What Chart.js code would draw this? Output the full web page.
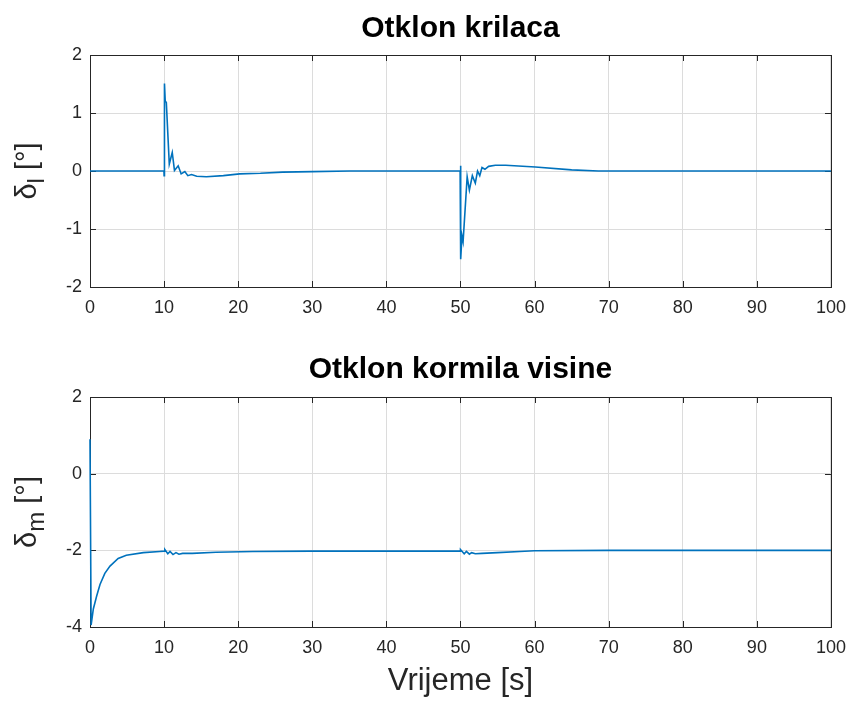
<!DOCTYPE html>
<html>
<head>
<meta charset="utf-8">
<script src="https://cdn.jsdelivr.net/npm/chart.js@4.4.0/dist/chart.umd.min.js"></script>
<style>
  body { margin: 0; background: #fff; }
  .panel { position: absolute; left: 0; width: 856px; }
  #gornji { top: 0; height: 330px; }
  #donji { top: 330px; height: 372px; }
</style>
</head>
<body>
<div class="panel" id="gornji"><canvas id="krilcaChart"></canvas></div>
<div class="panel" id="donji"><canvas id="kormiloChart"></canvas></div>
<script>
// Otklon krilaca: vrijeme [s] i kut [°]
const vrijemeKrilca = [0, 9.98, 10.0, 10.05, 10.15, 10.3, 10.7, 11.1, 11.4, 11.9, 12.3, 12.8, 13.2, 13.7, 14.4, 15.7, 18, 20.2, 23, 26, 30, 35, 49.95,
    50.0, 50.05, 50.2, 50.35, 50.9, 51.2, 51.6, 52.0, 52.3, 52.6, 52.9, 53.3, 53.8, 54.7, 56.1, 60.1, 65, 68.6, 75, 100];
const otklonKrilca = [0, 0, -0.08, 1.51, 1.21, 1.18, 0.12, 0.32, 0.01, 0.09, -0.05, -0.01, -0.08, -0.06, -0.09, -0.1, -0.08, -0.05, -0.04, -0.02, -0.01, 0, 0,
    0.09, -1.52, -1.12, -1.22, -0.1, -0.33, -0.08, -0.21, 0, -0.08, 0.06, 0.03, 0.08, 0.1, 0.1, 0.07, 0.02, 0, 0, 0];

// Otklon kormila visine: vrijeme [s] i kut [°]
const vrijemeKormila = [0, 0.15, 0.45, 0.9, 1.35, 2.0, 2.7, 3.8, 4.9, 7.2, 9.4, 10.0, 10.1, 10.5, 10.8, 11.2, 11.6, 12.0, 12.5, 13.8, 17, 22, 30, 40,
    49.95, 50.0, 50.5, 50.8, 51.2, 51.5, 52.0, 52.9, 55, 58, 60, 70, 100];
const otklonKormila = [0.9, -3.95, -3.53, -3.19, -2.89, -2.6, -2.41, -2.21, -2.13, -2.06, -2.03, -2.02, -1.98, -2.09, -2.03, -2.11, -2.06, -2.1, -2.08, -2.08, -2.05, -2.03, -2.02, -2.02,
    -2.02, -1.98, -2.09, -2.03, -2.1, -2.06, -2.09, -2.08, -2.06, -2.03, -2.01, -2.0, -2.0];

const xTicks = [0, 10, 20, 30, 40, 50, 60, 70, 80, 90, 100];
const yTicksKrilca = [-2, -1, 0, 1, 2];
const yTicksKormila = [-4, -2, 0, 2];

const FONT = '"Liberation Sans", Arial, sans-serif';
const TAMNA = '#262626';
const PLAVA = '#0072BD';

// okvir osi i unutarnje crtice, ispod krivulje
function nacrtajOkvir(chart) {
    const ctx = chart.ctx;
    const a = chart.chartArea;
    const sx = chart.scales.x, sy = chart.scales.y;
    ctx.save();
    ctx.strokeStyle = TAMNA;
    ctx.lineWidth = 1;
    ctx.beginPath();
    sx.ticks.forEach(function(t) {
        const px = Math.round(sx.getPixelForValue(t.value)) + 0.5;
        ctx.moveTo(px, a.top); ctx.lineTo(px, a.top + 6);
        ctx.moveTo(px, a.bottom); ctx.lineTo(px, a.bottom - 6);
    });
    sy.ticks.forEach(function(t) {
        const py = Math.round(sy.getPixelForValue(t.value)) + 0.5;
        ctx.moveTo(a.left, py); ctx.lineTo(a.left + 6, py);
        ctx.moveTo(a.right, py); ctx.lineTo(a.right - 6, py);
    });
    ctx.stroke();
    ctx.strokeRect(Math.round(a.left) + 0.5, Math.round(a.top) + 0.5,
        Math.round(a.right - a.left), Math.round(a.bottom - a.top));
    ctx.restore();
}

// oznake osi (delta s indeksom, vrijeme)
function nacrtajOznake(chart, opts) {
    const ctx = chart.ctx;
    const a = chart.chartArea;
    ctx.save();
    ctx.fillStyle = TAMNA;
    ctx.textAlign = 'left';
    ctx.textBaseline = 'alphabetic';
    ctx.translate(opts.labelX, (a.top + a.bottom) / 2);
    ctx.rotate(-Math.PI / 2);
    const glavni = '29px ' + FONT, mali = '24px ' + FONT;
    ctx.font = glavni;
    const w1 = ctx.measureText('δ').width;
    const w3 = ctx.measureText(' [°]').width;
    ctx.font = mali;
    const w2 = ctx.measureText(opts.indeks).width;
    let px = -(w1 + w2 + w3) / 2;
    ctx.font = glavni;
    ctx.fillText('δ', px, 0);
    px += w1;
    ctx.font = mali;
    ctx.fillText(opts.indeks, px, 8);
    px += w2;
    ctx.font = glavni;
    ctx.fillText(' [°]', px, 0);
    ctx.restore();

    if (opts.xLabel) {
        ctx.save();
        ctx.fillStyle = TAMNA;
        ctx.font = '31px ' + FONT;
        ctx.textAlign = 'center';
        ctx.textBaseline = 'middle';
        ctx.fillText(opts.xLabel, (a.left + a.right) / 2, opts.xLabelY);
        ctx.restore();
    }
}

const okvirPlugin = {
    id: 'okvir',
    beforeDatasetsDraw(chart) { nacrtajOkvir(chart); },
    afterDraw(chart, args, opts) { nacrtajOznake(chart, opts); }
};

function napraviGraf(id, naslov, vrijeme, otklon, yMin, yMax, yTicks, visinaX, naslovPadding, okvir) {
    const ctx = document.getElementById(id);
    return new Chart(ctx, {
        type: 'line',
        data: {
            datasets: [{
                data: vrijeme.map(function(t, i) { return { x: t, y: otklon[i] }; }),
                borderColor: PLAVA,
                borderWidth: 1.6,
                pointRadius: 0,
                tension: 0,
                fill: false,
                clip: 2
            }]
        },
        options: {
            responsive: true,
            maintainAspectRatio: false,
            animation: false,
            layout: { padding: { left: 0, right: 23, top: 0, bottom: 0 } },
            plugins: {
                legend: { display: false },
                tooltip: { enabled: false },
                title: {
                    display: true,
                    text: naslov,
                    fullSize: false,
                    color: '#000',
                    font: { family: FONT, size: 30, weight: 'bold' },
                    padding: naslovPadding
                },
                okvir: okvir
            },
            scales: {
                x: {
                    type: 'linear',
                    min: 0,
                    max: 100,
                    afterBuildTicks: function(s) { s.ticks = xTicks.map(function(v) { return { value: v }; }); },
                    afterFit: function(s) { s.height = visinaX; },
                    grid: { color: '#dcdcdc', drawTicks: false },
                    border: { display: false },
                    ticks: { color: TAMNA, padding: 10, maxRotation: 0, font: { family: FONT, size: 18 } }
                },
                y: {
                    min: yMin,
                    max: yMax,
                    afterBuildTicks: function(s) { s.ticks = yTicks.map(function(v) { return { value: v }; }); },
                    afterFit: function(s) { s.width = 90; },
                    grid: { color: '#dcdcdc', drawTicks: false },
                    border: { display: false },
                    ticks: { color: TAMNA, padding: 8, font: { family: FONT, size: 18 } }
                }
            }
        },
        plugins: [okvirPlugin]
    });
}

napraviGraf('krilcaChart', 'Otklon krilaca', vrijemeKrilca, otklonKrilca, -2, 2, yTicksKrilca,
    43, { top: 11, bottom: 8 }, { indeks: 'l', labelX: 36 });
napraviGraf('kormiloChart', 'Otklon kormila visine', vrijemeKormila, otklonKormila, -4, 2, yTicksKormila,
    75, { top: 22, bottom: 9 }, { indeks: 'm', labelX: 36, xLabel: 'Vrijeme [s]', xLabelY: 351 });
</script>
</body>
</html>
